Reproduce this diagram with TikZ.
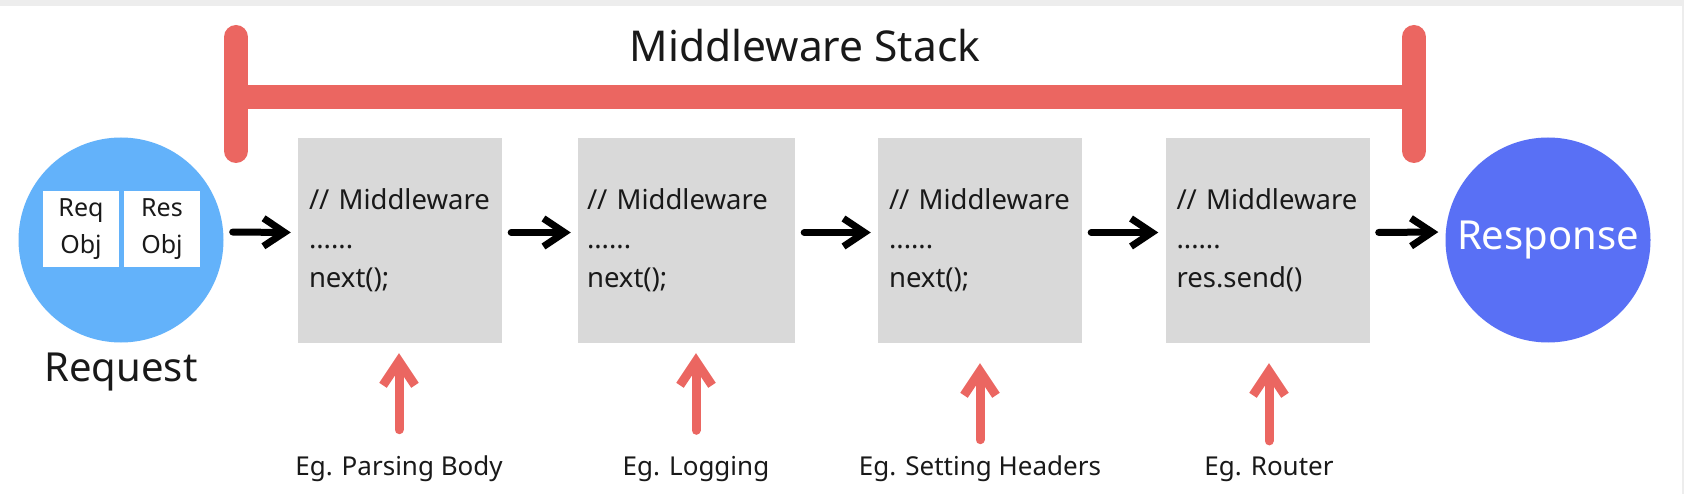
\documentclass[tikz,border=0pt]{standalone}
\usepackage{fontspec}
\setmainfont{Noto Sans}
\usetikzlibrary{arrows.meta,calc,positioning}
\definecolor{StackClr}{rgb}{0.92,0.40,0.38}
\definecolor{ReqClr}{rgb}{0.39,0.70,0.98}
\definecolor{ResClr}{rgb}{0.35,0.44,0.96}
\definecolor{BoxClr}{rgb}{0.85,0.85,0.85}
\definecolor{EdgeClr}{rgb}{0.93,0.93,0.93}
\definecolor{TextClr}{rgb}{0.10,0.10,0.10}

\tikzset{
  mwbox/.style={fill=BoxClr,minimum width=204pt,minimum height=205pt,text width=182pt,
    align=left,inner sep=0pt,text=TextClr,font=\fontsize{27.5}{39}\selectfont},
  objbox/.style={fill=white,minimum size=76pt,inner sep=0pt,align=center,
    text=TextClr,font=\fontsize{25}{37}\selectfont},
  ball/.style={circle,minimum size=205pt,inner sep=0pt},
  bigtext/.style={text=TextClr,font=\fontsize{40}{48}\selectfont},
  hint/.style={anchor=base,text=TextClr,font=\fontsize{26}{32}\selectfont},
  stackbar/.style={StackClr,line width=24pt},
  flow/.style={line width=7pt,line cap=round,-{Straight Barb[length=21pt,width=28pt]},
    shorten <=9pt,shorten >=7pt},
  hook/.style={StackClr,line width=9pt,line cap=round,-{Straight Barb[length=24pt,width=32pt]}}
}

\begin{document}
\begin{tikzpicture}[x=1pt,y=-1pt]
\fill[white] (0,0) rectangle (1684,494);
\fill[EdgeClr] (0,0) rectangle (1684,6);
\fill[EdgeClr] (1682,0) rectangle (1684,494);
\useasboundingbox (0,0) rectangle (1684,494);

\draw[stackbar] (236,97) -- (1414,97);
\draw[stackbar,line cap=round] (236,37) -- (236,151);
\draw[stackbar,line cap=round] (1414,37) -- (1414,151);
\node[bigtext,anchor=base,font=\fontsize{42.5}{50}\selectfont] (title) at (805,62) {Middleware Stack};

\node[ball,fill=ReqClr] (req) at (121,240) {};
\node[objbox] (reqobj) at (81,229) {Req\\Obj};
\node[objbox] (resobj) at (162,229) {Res\\Obj};
\node[bigtext,below=7pt of req] (reqlabel) {Request};

\node[mwbox] (mw1) at (400,240.5) {// Middleware\\......\\next();};
\node[mwbox,minimum width=217pt,text width=199pt] (mw2) at (686.5,240.5) {// Middleware\\......\\next();};
\node[mwbox] (mw3) at (980,240.5) {// Middleware\\......\\next();};
\node[mwbox] (mw4) at (1267.5,240.5) {// Middleware\\......\\res.send()};

\node[ball,fill=ResClr,text=white,font=\fontsize{40}{48}\selectfont] (res) at (1548,240) {Response};

\foreach \a/\b in {req/mw1,mw1/mw2,mw2/mw3,mw3/mw4,mw4/res}
  \draw[flow] ([yshift=8pt]\a.east) -- ([yshift=8pt]\b.west);

\node[hint] (eg1) at (399,475) {Eg. Parsing Body};
\node[hint] (eg2) at (696,475) {Eg. Logging};
\node[hint] (eg3) at (980,475) {Eg. Setting Headers};
\node[hint] (eg4) at (1269,475) {Eg. Router};

\foreach \i/\lo/\hi in {1/22/10,2/22/10,3/12/20,4/12/20}
  \draw[hook,shorten <=\lo pt,shorten >=\hi pt] (eg\i.north) -- (eg\i.north |- mw\i.south);

\end{tikzpicture}
\end{document}
